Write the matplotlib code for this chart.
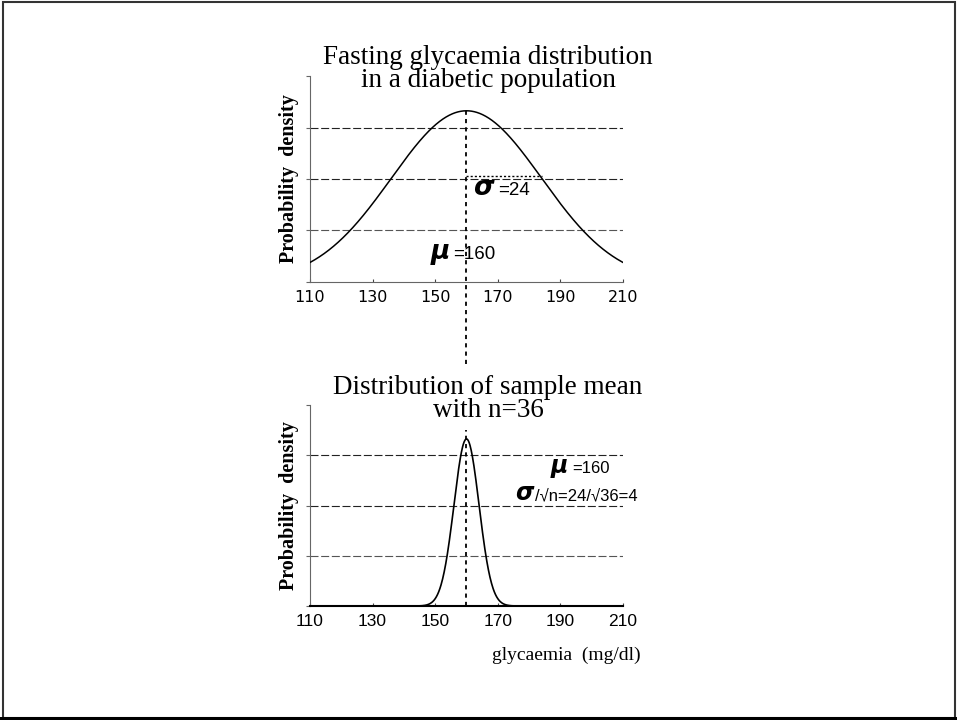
import numpy as np
import matplotlib
matplotlib.use("Agg")
from matplotlib import pyplot as plt
from matplotlib.patches import Rectangle

# Valores del grafico
mu = 160
sigma = 24
n = 36
x_ticks = [110, 130, 150, 170, 190, 210]
y_ticks_top = [0, 0.005, 0.010, 0.015, 0.020]
y_ticks_bot = [0, 0.03, 0.06, 0.09, 0.12]
sigma_line_y = 0.0103  # altura de la linea punteada de sigma (leida)

W, H = 957, 720


def px(x, y):
    # pixeles de la imagen -> coordenadas de figura
    return x / W, 1 - y / H


def normal_pdf(x, m, s):
    return np.exp(-0.5 * ((x - m) / s) ** 2) / (s * np.sqrt(2 * np.pi))


xs = np.linspace(110, 210, 801)
se = sigma / np.sqrt(n)

serif = "Liberation Serif"
sans = "Liberation Sans"
greek = dict(family="DejaVu Sans", weight="bold", style="italic")

fig = plt.figure(figsize=(W / 100, H / 100), dpi=100)

# 1. Distribucion de la poblacion
ax1 = fig.add_axes([310 / W, 1 - 282 / H, 313 / W, 206 / H])
# 2. Distribucion de la media muestral
ax2 = fig.add_axes([310 / W, 1 - 606 / H, 313 / W, 201 / H])

for ax, yt in [(ax1, y_ticks_top), (ax2, y_ticks_bot)]:
    ax.set_xlim(110, 210)
    ax.set_ylim(yt[0], yt[-1])
    ax.set_xticks(x_ticks)
    ax.set_yticks(yt)
    ax.set_yticklabels([])
    ax.spines[["top", "right"]].set_visible(False)
    ax.spines["left"].set_color("#666666")
    ax.tick_params(axis="y", direction="out", length=3, color="#666666")
    ax.tick_params(axis="x", direction="in", length=2.5, color="#444444")
    for i, yv in enumerate(yt[1:-1]):
        ax.axhline(yv, color="#222222" if i > 0 else "#555555", lw=0.8,
                   dashes=(7.2, 2.4), zorder=1)
    ax.set_ylabel("Probability  density", family=serif, weight="bold",
                  fontsize=14.5, labelpad=1.5)

ax1.spines["bottom"].set_color("#666666")
ax1.spines["bottom"].set_linewidth(0.8)
ax2.spines["bottom"].set_color("black")
ax2.spines["bottom"].set_linewidth(1.5)

ax1.set_xticklabels([str(t) for t in x_ticks], family="DejaVu Sans",
                    fontsize=11.5)
ax1.tick_params(axis="x", pad=6)
ax2.set_xticklabels([str(t) for t in x_ticks], family=sans, fontsize=12.5)
ax2.tick_params(axis="x", pad=6)

# curvas
pdf1 = normal_pdf(xs, mu, sigma)
pdf2 = normal_pdf(xs, mu, se)
ax1.plot(xs, pdf1, color="black", lw=1.1, zorder=3)
ax2.plot(xs, pdf2, color="black", lw=1.2, zorder=3, clip_on=False)

# lineas punteadas de la media
peak1 = normal_pdf(mu, mu, sigma)
ax1.axvline(mu, ymin=-0.40, ymax=peak1 / y_ticks_top[-1], color="black",
            lw=1.3, dashes=(2.3, 2.3), clip_on=False, zorder=4)
ax2.axvline(mu, ymin=0, ymax=0.875, color="black", lw=1.3,
            dashes=(2.3, 2.3), zorder=4)
ax1.plot([mu, mu + sigma], [sigma_line_y, sigma_line_y], color="black",
         lw=1.0, dashes=(1.5, 1.5), zorder=4)

# titulos (baseline = ultima linea)
for y, s in [(87, "Fasting glycaemia distribution\nin a diabetic population"),
             (417, "Distribution of sample mean\nwith n=36")]:
    fig.text(*px(488, y), s, family=serif, fontsize=19.5, ha="center",
             va="baseline", multialignment="center", linespacing=0.9)

# anotaciones del grafico superior
fig.text(*px(473, 195), "\u03c3", fontsize=19, ha="left", va="baseline", **greek)
fig.text(*px(498, 195), "=24", family=sans, fontsize=13.5, ha="left",
         va="baseline")
fig.text(*px(431, 259), "\u03bc", fontsize=19, ha="left", va="baseline", **greek)
fig.text(*px(453, 259), "=160", family=sans, fontsize=13.5, ha="left",
         va="baseline")

# anotaciones del grafico inferior
fig.text(*px(551, 473), "\u03bc", fontsize=17, ha="left", va="baseline", **greek)
fig.text(*px(572, 473), "=160", family=sans, fontsize=12, ha="left",
         va="baseline")
fig.text(*px(515, 500), "\u03c3", fontsize=17, ha="left", va="baseline", **greek)
fig.text(*px(535, 500), "/\u221an=24/\u221a36=4", family=sans, fontsize=12,
         ha="left", va="baseline")

fig.text(*px(566, 660), "glycaemia  (mg/dl)", family=serif, fontsize=14,
         ha="center", va="baseline")

# marco de la diapositiva
fig.patches.append(Rectangle((3 / W, 2 / H), 952 / W, 716 / H,
                             transform=fig.transFigure, fill=False,
                             ec="#333333", lw=1.5))
fig.patches.append(Rectangle((0, 0), 1, 3 / H, transform=fig.transFigure,
                             fc="black", ec="none"))

fig.savefig("out.png", dpi=100)
